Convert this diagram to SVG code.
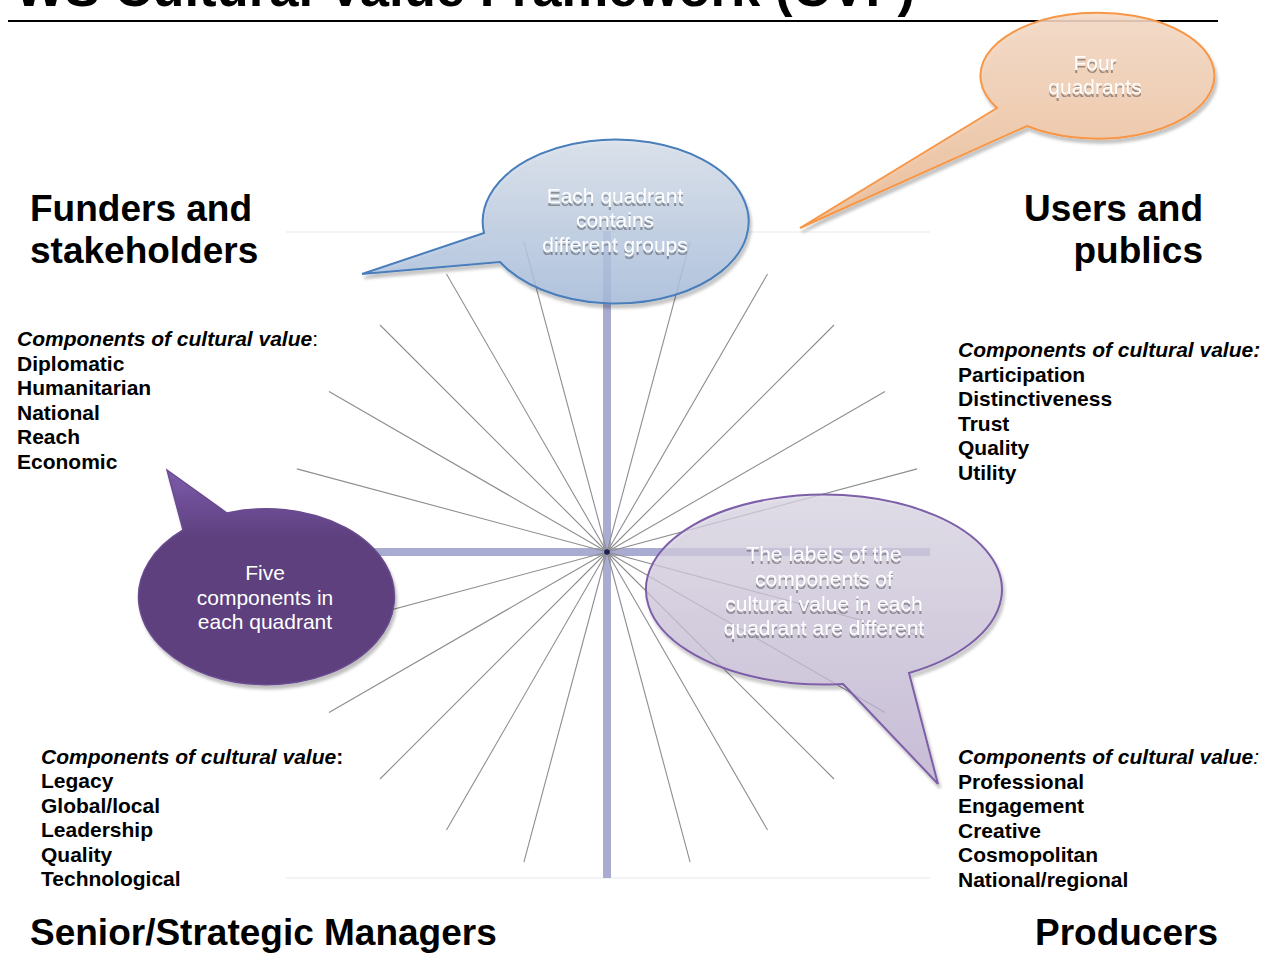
<svg xmlns="http://www.w3.org/2000/svg" width="1279" height="954" viewBox="0 0 1279 954">
<style>
.h{font-family:"Liberation Sans",Arial,sans-serif;font-weight:bold;font-size:37px;fill:#000}
.l{font-family:"Liberation Sans",Arial,sans-serif;font-weight:bold;font-size:21px;fill:#000}
.bt{font-family:"Liberation Sans",Arial,sans-serif;font-size:21px;fill:#fff;text-anchor:middle}
.ray{stroke:#8e8e8e;stroke-width:1.1}
</style>
<defs>
<linearGradient id="gBlue" x1="0" y1="0" x2="0" y2="1"><stop offset="0" stop-color="#d8e0eb"/><stop offset="1" stop-color="#a6bcdb"/></linearGradient>
<linearGradient id="gOrange" x1="0" y1="0" x2="0" y2="1"><stop offset="0" stop-color="#f4dac6"/><stop offset="1" stop-color="#ecba92"/></linearGradient>
<linearGradient id="gDark" gradientUnits="userSpaceOnUse" x1="0" y1="470" x2="0" y2="540"><stop offset="0" stop-color="#7c5bab"/><stop offset="1" stop-color="#5d3f7d"/></linearGradient>
<linearGradient id="gLight" x1="0" y1="0" x2="0" y2="1"><stop offset="0" stop-color="#dcd7e5"/><stop offset="1" stop-color="#bcaed0"/></linearGradient>
<filter id="sh" x="-10%" y="-10%" width="130%" height="130%"><feDropShadow dx="2" dy="4" stdDeviation="1.5" flood-color="#000" flood-opacity="0.25"/></filter>
<filter id="ts" x="-10%" y="-20%" width="120%" height="160%"><feDropShadow dx="0" dy="3" stdDeviation="0.7" flood-color="#333" flood-opacity="0.45"/></filter>
</defs>
<rect width="1279" height="954" fill="#fff"/>

<g id="title">
<text x="15" y="6" font-family="Liberation Sans, Arial, sans-serif" font-weight="bold" font-size="52.6">WS Cultural Value Framework (CVF)</text>
<line x1="8" y1="21" x2="1218" y2="21" stroke="#000" stroke-width="2.2"/>
</g>

<g id="connectors">
<line x1="286" y1="232" x2="930" y2="232" stroke="#f0f0f0" stroke-width="1.5"/>
<line x1="286" y1="878" x2="930" y2="878" stroke="#f0f0f0" stroke-width="1.5"/>
<rect x="603" y="231" width="8" height="647" fill="#a9abd0"/>
<rect x="284" y="548" width="646" height="8" fill="#a9abd0"/>
<g class="ray">
<line x1="607" y1="552" x2="917.1" y2="468.9"/>
<line x1="607" y1="552" x2="885" y2="391.5"/>
<line x1="607" y1="552" x2="834" y2="325"/>
<line x1="607" y1="552" x2="767.5" y2="274"/>
<line x1="607" y1="552" x2="690.1" y2="241.9"/>
<line x1="607" y1="552" x2="523.9" y2="241.9"/>
<line x1="607" y1="552" x2="446.5" y2="274"/>
<line x1="607" y1="552" x2="380" y2="325"/>
<line x1="607" y1="552" x2="329" y2="391.5"/>
<line x1="607" y1="552" x2="296.9" y2="468.9"/>
<line x1="607" y1="552" x2="296.9" y2="635.1"/>
<line x1="607" y1="552" x2="329" y2="712.5"/>
<line x1="607" y1="552" x2="380" y2="779"/>
<line x1="607" y1="552" x2="446.5" y2="830"/>
<line x1="607" y1="552" x2="523.9" y2="862.1"/>
<line x1="607" y1="552" x2="690.1" y2="862.1"/>
<line x1="607" y1="552" x2="767.5" y2="830"/>
<line x1="607" y1="552" x2="834" y2="779"/>
<line x1="607" y1="552" x2="885" y2="712.5"/>
<line x1="607" y1="552" x2="917.1" y2="635.1"/>
</g>
<circle cx="607" cy="552" r="2.8" fill="#1e1e5a"/>
</g>

<g id="heading-funders">
<text class="h" x="30" y="221">Funders and</text>
<text class="h" x="30" y="263">stakeholders</text>
</g>
<g id="heading-users">
<text class="h" x="1203" y="221" text-anchor="end">Users and</text>
<text class="h" x="1203" y="263" text-anchor="end">publics</text>
</g>
<g id="heading-senior">
<text class="h" x="30" y="945">Senior/Strategic Managers</text>
</g>
<g id="heading-producers">
<text class="h" x="1218" y="945" text-anchor="end">Producers</text>
</g>

<g id="list-funders">
<text class="l" x="17" y="346"><tspan font-style="italic">Components of cultural value</tspan><tspan font-weight="normal">:</tspan></text>
<text class="l" x="17" y="370.5">Diplomatic</text>
<text class="l" x="17" y="395">Humanitarian</text>
<text class="l" x="17" y="419.5">National</text>
<text class="l" x="17" y="444">Reach</text>
<text class="l" x="17" y="468.5">Economic</text>
</g>
<g id="list-users">
<text class="l" x="958" y="357" font-style="italic">Components of cultural value:</text>
<text class="l" x="958" y="381.5">Participation</text>
<text class="l" x="958" y="406">Distinctiveness</text>
<text class="l" x="958" y="430.5">Trust</text>
<text class="l" x="958" y="455">Quality</text>
<text class="l" x="958" y="479.5">Utility</text>
</g>
<g id="list-senior">
<text class="l" x="41" y="763.5"><tspan font-style="italic">Components of cultural value</tspan>:</text>
<text class="l" x="41" y="788">Legacy</text>
<text class="l" x="41" y="812.5">Global/local</text>
<text class="l" x="41" y="837">Leadership</text>
<text class="l" x="41" y="861.5">Quality</text>
<text class="l" x="41" y="886">Technological</text>
</g>
<g id="list-producers">
<text class="l" x="958" y="764"><tspan font-style="italic">Components of cultural value</tspan><tspan font-style="italic" font-weight="normal">:</tspan></text>
<text class="l" x="958" y="788.5">Professional</text>
<text class="l" x="958" y="813">Engagement</text>
<text class="l" x="958" y="837.5">Creative</text>
<text class="l" x="958" y="862">Cosmopolitan</text>
<text class="l" x="958" y="886.5">National/regional</text>
</g>

<g id="bubble-groups">
<path d="M484,233 L362,274 L500,262 A133,82 0 1 0 484,233 Z" fill="url(#gBlue)" fill-opacity="0.82" stroke="#4a7ebb" stroke-width="2" filter="url(#sh)"/>
<g filter="url(#ts)">
<text class="bt" x="615" y="203">Each quadrant</text>
<text class="bt" x="615" y="227">contains</text>
<text class="bt" x="615" y="252">different groups</text>
</g>
</g>

<g id="bubble-quadrants">
<path d="M997,108 L800,228 L1027,126 A117,63 0 1 0 997,108 Z" fill="url(#gOrange)" fill-opacity="0.88" stroke="#f79646" stroke-width="2" filter="url(#sh)"/>
<g filter="url(#ts)">
<text class="bt" x="1095" y="70">Four</text>
<text class="bt" x="1095" y="94">quadrants</text>
</g>
</g>

<g id="bubble-components">
<path d="M183,530 L167,470 L227,513 A128,88 0 1 1 183,530 Z" fill="url(#gDark)" stroke="#6a4c90" stroke-width="1.5" filter="url(#sh)"/>
<text class="bt" x="265" y="580">Five</text>
<text class="bt" x="265" y="605">components in</text>
<text class="bt" x="265" y="629">each quadrant</text>
</g>

<g id="bubble-labels">
<path d="M843,684 L938,784 L909,673 A178,95 0 1 0 843,684 Z" fill="url(#gLight)" fill-opacity="0.72" stroke="#7d5fa8" stroke-width="2" filter="url(#sh)"/>
<g filter="url(#ts)">
<text class="bt" x="824" y="561">The labels of the</text>
<text class="bt" x="824" y="586">components of</text>
<text class="bt" x="824" y="611">cultural value in each</text>
<text class="bt" x="824" y="635">quadrant are different</text>
</g>
</g>
</svg>
